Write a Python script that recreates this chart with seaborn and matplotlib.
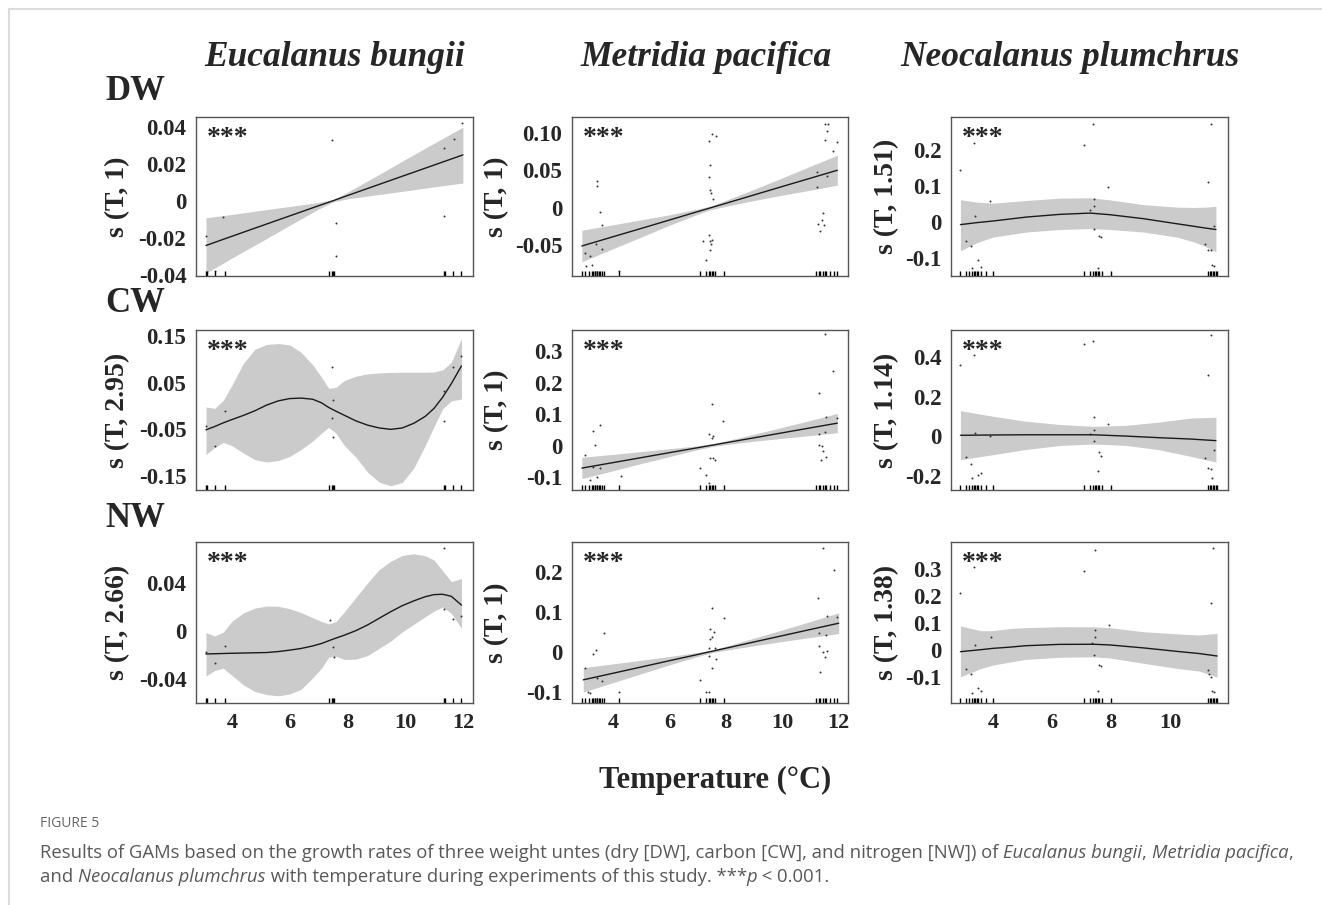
import numpy as np
import matplotlib.pyplot as plt
import seaborn as sns
from matplotlib.lines import Line2D

# Labels
species = ['Eucalanus bungii', 'Metridia pacifica', 'Neocalanus plumchrus']
weights = ['DW', 'CW', 'NW']
ylabels = [['s (T, 1)', 's (T, 1)', 's (T, 1.51)'],
           ['s (T, 2.95)', 's (T, 1)', 's (T, 1.14)'],
           ['s (T, 2.66)', 's (T, 1)', 's (T, 1.38)']]

# Rug (observed temperatures) per species
eb_rug = [3.1, 3.12, 3.4, 3.75, 7.35, 7.45, 7.5, 7.55, 11.33, 11.37, 11.65, 11.95]
mp_rug = [2.9, 3.0, 3.15, 3.25, 3.3, 3.35, 3.38, 3.42, 3.45, 3.5, 3.55, 3.6, 3.7, 4.2,
          7.1, 7.3, 7.4, 7.45, 7.5, 7.55, 7.6, 7.95,
          11.2, 11.3, 11.35, 11.45, 11.5, 11.55, 11.7, 11.85, 11.95]
np_rug = [2.9, 3.1, 3.2, 3.3, 3.35, 3.4, 3.45, 3.5, 3.6, 3.75, 4.0,
          7.1, 7.3, 7.4, 7.45, 7.5, 7.55, 7.6, 7.7, 8.0,
          11.3, 11.35, 11.4, 11.45, 11.5, 11.55, 11.6]

# ---- DW ----
eb_dw_x = [3.1, 4, 5, 6, 7, 7.5, 8, 9, 10, 11, 12]
eb_dw_fit = [-0.024, -0.019, -0.0135, -0.008, -0.0025, 0.0002, 0.003, 0.0085, 0.014, 0.0195, 0.025]
eb_dw_lo = [-0.039, -0.0308, -0.022, -0.0131, -0.0043, -0.0004, 0.0012, 0.0034, 0.0055, 0.0077, 0.0098]
eb_dw_hi = [-0.009, -0.0072, -0.005, -0.0029, -0.0007, 0.0008, 0.0048, 0.0136, 0.0225, 0.0313, 0.040]
eb_dw_px = [3.1, 3.7, 3.4, 7.47, 7.6, 7.6, 11.35, 11.7, 11.97, 11.35]
eb_dw_py = [-0.0188, -0.0084, -0.038, 0.033, -0.0117, -0.0297, 0.0286, 0.0335, 0.042, -0.0079]

mp_dw_x = [2.9, 4, 5, 6, 7, 7.45, 8, 9, 10, 11, 11.95]
mp_dw_fit = [-0.051, -0.0387, -0.0276, -0.0164, -0.0052, -0.0002, 0.0059, 0.0171, 0.0283, 0.0394, 0.050]
mp_dw_lo = [-0.072, -0.0547, -0.0391, -0.0234, -0.0087, -0.0027, 0.0019, 0.0096, 0.0168, 0.0234, 0.030]
mp_dw_hi = [-0.030, -0.0227, -0.0161, -0.0094, -0.0017, 0.0023, 0.0099, 0.0246, 0.0398, 0.0554, 0.070]
mp_dw_px = [3.42, 3.44, 3.55, 3.6, 3.4, 3.0, 3.2, 3.05, 3.25, 3.6, 4.2,
            7.5, 7.4, 7.66, 7.45, 7.4, 7.43, 7.47, 7.55, 7.2, 7.4, 7.45, 7.5, 7.47, 7.3, 7.43,
            11.5, 11.62, 11.57, 11.5, 11.95, 11.8, 11.23, 11.57, 11.23, 11.45, 11.42, 11.27, 11.47, 11.35]
mp_dw_py = [0.0355, 0.0285, -0.006, -0.0225, -0.049, -0.06, -0.064, -0.078, -0.077, -0.055, -0.085,
            0.098, 0.089, 0.096, 0.057, 0.041, 0.024, 0.020, 0.012, -0.045, -0.036, -0.044, -0.043, -0.049, -0.070, -0.057,
            0.111, 0.112, 0.102, 0.090, 0.088, 0.075, 0.048, 0.042, 0.027, -0.007, -0.016, -0.022, -0.023, -0.031]

np_dw_x = [2.9, 3.45, 4.0, 5.15, 6.28, 7.29, 7.97, 9.1, 10.23, 10.8, 11.2, 11.56]
np_dw_fit = [-0.0075, -0.002, 0.0025, 0.0136, 0.021, 0.0245, 0.020, 0.009, -0.005, -0.012, -0.017, -0.021]
np_dw_lo = [-0.080, -0.058, -0.042, -0.028, -0.021, -0.0185, -0.021, -0.028, -0.042, -0.055, -0.068, -0.083]
np_dw_hi = [0.0614, 0.055, 0.052, 0.0595, 0.066, 0.067, 0.061, 0.048, 0.041, 0.040, 0.041, 0.043]
np_dw_px = [2.9, 3.35, 3.38, 3.1, 3.25, 3.5, 3.3, 3.6, 3.9,
            7.1, 7.4, 7.42, 7.44, 7.3, 7.42, 7.6, 7.65, 7.55, 7.9,
            11.4, 11.3, 11.5, 11.2, 11.3, 11.4, 11.42, 11.48]
np_dw_py = [0.144, 0.218, 0.016, -0.053, -0.066, -0.105, -0.128, -0.125, 0.059,
            0.213, 0.272, 0.063, 0.044, 0.032, -0.019, -0.040, -0.041, -0.128, 0.096,
            0.271, 0.111, -0.011, -0.060, -0.077, -0.077, -0.119, -0.123]

# ---- CW ----
eb_cw_x = [3.1, 3.4, 3.7, 4.0, 4.4, 4.8, 5.2, 5.6, 6.0, 6.4, 6.8, 7.1, 7.35, 7.6, 7.9,
           8.3, 8.7, 9.1, 9.5, 9.9, 10.3, 10.7, 11.0, 11.3, 11.6, 11.95]
eb_cw_fit = [-0.051, -0.044, -0.036, -0.029, -0.020, -0.010, 0.002, 0.011, 0.016, 0.017, 0.0145,
             0.007, -0.003, -0.011, -0.020, -0.032, -0.041, -0.047, -0.050, -0.047, -0.037,
             -0.022, -0.005, 0.019, 0.048, 0.086]
eb_cw_lo = [-0.104, -0.089, -0.078, -0.085, -0.101, -0.115, -0.120, -0.117, -0.108, -0.093, -0.075,
            -0.058, -0.046, -0.058, -0.085, -0.110, -0.142, -0.163, -0.171, -0.164, -0.133,
            -0.084, -0.044, -0.006, 0.011, 0.015]
eb_cw_hi = [-0.002, -0.005, 0.012, 0.045, 0.092, 0.122, 0.132, 0.134, 0.131, 0.115, 0.088,
            0.062, 0.038, 0.040, 0.055, 0.064, 0.069, 0.071, 0.072, 0.0725, 0.0725,
            0.0725, 0.073, 0.0775, 0.094, 0.145]
eb_cw_px = [3.1, 3.4, 3.75, 7.47, 7.5, 7.45, 7.5, 11.35, 11.65, 11.95, 11.35]
eb_cw_py = [-0.042, -0.085, -0.011, 0.083, 0.013, -0.026, -0.067, 0.032, 0.083, 0.108, -0.033]

mp_cw_x = [2.9, 4, 5, 6, 7, 7.5, 8, 9, 10, 11, 11.95]
mp_cw_fit = [-0.0714, -0.0541, -0.0383, -0.0225, -0.0068, 0.0011, 0.009, 0.0247, 0.0405, 0.0563, 0.0712]
mp_cw_lo = [-0.105, -0.080, -0.057, -0.035, -0.013, -0.0034, 0.003, 0.014, 0.023, 0.032, 0.041]
mp_cw_hi = [-0.037, -0.028, -0.019, -0.010, -0.0008, 0.0056, 0.015, 0.036, 0.058, 0.080, 0.102]
mp_cw_px = [3.0, 3.3, 3.35, 3.55, 3.3, 3.45, 3.2, 4.3, 3.55,
            7.5, 7.42, 7.5, 7.55, 7.9, 7.45, 7.55, 7.62, 7.1, 7.3, 7.42,
            11.5, 11.8, 11.3, 11.55, 11.95, 11.3, 11.5, 11.3, 11.42, 11.45, 11.55, 11.38]
mp_cw_py = [-0.029, 0.047, 0.0025, 0.064, -0.069, -0.100, -0.110, -0.098, -0.072,
            0.132, 0.036, 0.025, 0.030, 0.079, -0.040, -0.040, -0.045, -0.071, -0.092, -0.118,
            0.354, 0.236, 0.167, 0.092, 0.088, 0.036, 0.042, 0.0025, 0.0, -0.018, -0.035, -0.047]

np_cw_x = [2.9, 4.0, 5.1, 6.3, 7.4, 8.5, 9.6, 10.7, 11.56]
np_cw_fit = [0.005, 0.0065, 0.0075, 0.0075, 0.0075, 0.001, -0.007, -0.014, -0.022]
np_cw_lo = [-0.118, -0.093, -0.067, -0.046, -0.039, -0.046, -0.067, -0.101, -0.130]
np_cw_hi = [0.129, 0.101, 0.076, 0.059, 0.050, 0.055, 0.071, 0.092, 0.096]
np_cw_px = [2.9, 3.35, 3.38, 3.1, 3.25, 3.5, 3.3, 3.6, 3.9,
            7.1, 7.4, 7.42, 7.44, 7.3, 7.42, 7.6, 7.65, 7.55, 7.9,
            11.4, 11.3, 11.5, 11.2, 11.3, 11.4, 11.42]
np_cw_py = [0.361, 0.412, 0.018, -0.107, -0.141, -0.197, -0.210, -0.186, 0.0,
            0.466, 0.480, 0.095, 0.030, 0.010, -0.022, -0.081, -0.100, -0.175, 0.060,
            0.512, 0.310, -0.067, -0.110, -0.160, -0.165, -0.210]

# ---- NW ----
eb_nw_x = [3.1, 3.4, 3.7, 4.0, 4.4, 4.8, 5.2, 5.6, 6.0, 6.4, 6.8, 7.1, 7.35, 7.6, 7.9,
           8.3, 8.7, 9.1, 9.5, 9.9, 10.3, 10.7, 11.0, 11.3, 11.6, 11.95]
eb_nw_fit = [-0.0192, -0.019, -0.0188, -0.0186, -0.0184, -0.0182, -0.018, -0.0172, -0.016, -0.0146,
             -0.0125, -0.0105, -0.0082, -0.006, -0.0035, 0.0003, 0.005, 0.0105, 0.016, 0.021,
             0.025, 0.0285, 0.0302, 0.0305, 0.0288, 0.0215]
eb_nw_lo = [-0.0375, -0.033, -0.031, -0.037, -0.045, -0.0505, -0.053, -0.054, -0.0525, -0.0485,
            -0.039, -0.031, -0.022, -0.021, -0.0238, -0.0235, -0.0205, -0.0145, -0.0085, -0.0008,
            0.0055, 0.0119, 0.0165, 0.020, 0.0145, 0.0022]
eb_nw_hi = [-0.0014, -0.0042, -0.001, 0.008, 0.015, 0.019, 0.0207, 0.0205, 0.0185, 0.0152,
            0.011, 0.0078, 0.0058, 0.0078, 0.016, 0.028, 0.040, 0.051, 0.058, 0.0628,
            0.0642, 0.0625, 0.059, 0.050, 0.041, 0.0435]
eb_nw_px = [3.1, 3.4, 3.75, 7.4, 7.5, 7.52, 11.35, 11.35, 11.65, 11.95]
eb_nw_py = [-0.0175, -0.027, -0.0125, 0.009, -0.013, -0.022, 0.069, 0.018, 0.0098, 0.012]

mp_nw_x = [2.95, 4, 5, 6, 7, 7.5, 8, 9, 10, 11, 12]
mp_nw_fit = [-0.070, -0.0536, -0.0379, -0.0222, -0.0066, 0.0013, 0.0091, 0.0248, 0.0404, 0.0561, 0.0717]
mp_nw_lo = [-0.1005, -0.0771, -0.0549, -0.0327, -0.0116, -0.0022, 0.0041, 0.0153, 0.0259, 0.0361, 0.0457]
mp_nw_hi = [-0.0395, -0.0301, -0.0209, -0.0117, -0.0016, 0.0048, 0.0141, 0.0343, 0.0549, 0.0761, 0.0977]
mp_nw_px = [3.0, 3.3, 3.4, 3.7, 3.42, 3.6, 3.1, 3.2, 4.2,
            7.5, 7.45, 7.5, 7.45, 7.57, 7.4, 7.6, 7.65, 7.4, 7.5, 7.1, 7.3, 7.4, 7.95,
            11.45, 11.85, 11.25, 11.6, 11.3, 11.55, 11.95, 11.3, 11.45, 11.6, 11.5, 11.35]
mp_nw_py = [-0.041, -0.005, 0.005, 0.048, -0.065, -0.073, -0.100, -0.102, -0.100,
            0.111, 0.058, 0.036, 0.032, 0.050, 0.009, 0.009, -0.018, -0.010, -0.040, -0.070, -0.100, -0.100, 0.084,
            0.259, 0.206, 0.136, 0.090, 0.046, 0.042, 0.087, 0.014, 0.0, 0.003, -0.012, -0.050]

np_nw_x = [2.9, 3.6, 4.0, 4.6, 5.1, 6.25, 7.4, 7.95, 9.1, 10.25, 11.0, 11.6]
np_nw_fit = [-0.006, 0.0015, 0.0063, 0.011, 0.016, 0.021, 0.0215, 0.019, 0.008, -0.005, -0.013, -0.022]
np_nw_lo = [-0.099, -0.068, -0.0556, -0.044, -0.0346, -0.027, -0.025, -0.029, -0.049, -0.068, -0.078, -0.100]
np_nw_hi = [0.089, 0.0716, 0.072, 0.080, 0.083, 0.0863, 0.086, 0.083, 0.0679, 0.060, 0.0556, 0.0617]
np_nw_px = [2.9, 3.35, 3.38, 3.1, 3.25, 3.5, 3.3, 3.6, 3.95,
            7.1, 7.45, 7.47, 7.47, 7.35, 7.42, 7.6, 7.67, 7.55, 7.95,
            11.45, 11.38, 11.3, 11.32, 11.4, 11.42, 11.48]
np_nw_py = [0.212, 0.308, 0.020, -0.069, -0.088, -0.140, -0.160, -0.150, 0.048,
            0.294, 0.370, 0.074, 0.047, 0.027, -0.020, -0.054, -0.060, -0.150, 0.094,
            0.376, 0.175, -0.075, -0.090, -0.100, -0.150, -0.157]

# Axis settings
xlims = [(2.755, 12.35), (2.55, 12.33), (2.58, 11.97)]
xticks = [[4, 6, 8, 10, 12], [4, 6, 8, 10, 12], [4, 6, 8, 10]]
ylims = [[(-0.0405, 0.0455), (-0.091, 0.121), (-0.150, 0.291)],
         [(-0.180, 0.163), (-0.141, 0.367), (-0.271, 0.536)],
         [(-0.060, 0.074), (-0.128, 0.275), (-0.196, 0.400)]]
yticks = [[[-0.04, -0.02, 0, 0.02, 0.04], [-0.05, 0, 0.05, 0.10], [-0.1, 0, 0.1, 0.2]],
          [[-0.15, -0.1, -0.05, 0, 0.05, 0.1, 0.15], [-0.1, 0, 0.1, 0.2, 0.3], [-0.2, 0, 0.2, 0.4]],
          [[-0.04, -0.02, 0, 0.02, 0.04, 0.06], [-0.1, 0, 0.1, 0.2], [-0.1, 0, 0.1, 0.2, 0.3]]]
yticklabels = [[['-0.04', '-0.02', '0', '0.02', '0.04'], ['-0.05', '0', '0.05', '0.10'], ['-0.1', '0', '0.1', '0.2']],
               [['-0.15', '', '-0.05', '', '0.05', '', '0.15'], ['-0.1', '0', '0.1', '0.2', '0.3'], ['-0.2', '0', '0.2', '0.4']],
               [['-0.04', '', '0', '', '0.04', ''], ['-0.1', '0', '0.1', '0.2'], ['-0.1', '0', '0.1', '0.2', '0.3']]]

panels = [
    [(eb_dw_x, eb_dw_fit, eb_dw_lo, eb_dw_hi, eb_dw_px, eb_dw_py, eb_rug),
     (mp_dw_x, mp_dw_fit, mp_dw_lo, mp_dw_hi, mp_dw_px, mp_dw_py, mp_rug),
     (np_dw_x, np_dw_fit, np_dw_lo, np_dw_hi, np_dw_px, np_dw_py, np_rug)],
    [(eb_cw_x, eb_cw_fit, eb_cw_lo, eb_cw_hi, eb_cw_px, eb_cw_py, eb_rug),
     (mp_cw_x, mp_cw_fit, mp_cw_lo, mp_cw_hi, mp_cw_px, mp_cw_py, mp_rug),
     (np_cw_x, np_cw_fit, np_cw_lo, np_cw_hi, np_cw_px, np_cw_py, np_rug)],
    [(eb_nw_x, eb_nw_fit, eb_nw_lo, eb_nw_hi, eb_nw_px, eb_nw_py, eb_rug),
     (mp_nw_x, mp_nw_fit, mp_nw_lo, mp_nw_hi, mp_nw_px, mp_nw_py, mp_rug),
     (np_nw_x, np_nw_fit, np_nw_lo, np_nw_hi, np_nw_px, np_nw_py, np_rug)],
]

sns.set_style('white')
plt.rcParams['font.family'] = ['Liberation Serif', 'DejaVu Serif']
plt.rcParams['font.weight'] = 'bold'

W, H = 1322, 905
fig = plt.figure(figsize=(W / 100, H / 100), dpi=100)

col_left = [196, 572, 951]
col_w = [277, 276, 277]
row_top = [117, 330, 542]
row_h = [159, 160, 161]
ylab_off = [78, 75, 64]

for r in range(3):
    for c in range(3):
        x, fit, lo, hi, px, py, rug = panels[r][c]
        ax = fig.add_axes([col_left[c] / W, 1 - (row_top[r] + row_h[r]) / H, col_w[c] / W, row_h[r] / H])
        ax.fill_between(x, lo, hi, color='#cbcbcb', lw=0)
        sns.lineplot(x=x, y=fit, color='#1a1a1a', lw=1.0, ax=ax)
        sns.scatterplot(x=px, y=py, s=2, color='#333333', linewidth=0, ax=ax)
        sns.rugplot(x=rug, height=0.03, color='black', lw=0.9, ax=ax)
        ax.set_xlim(*xlims[c])
        ax.set_ylim(*ylims[r][c])
        ax.set_xticks(xticks[c])
        if r == 2:
            ax.set_xticklabels([str(t) for t in xticks[c]], fontsize=16, fontweight='bold')
        else:
            ax.set_xticklabels([])
        ax.set_yticks(yticks[r][c])
        ax.set_yticklabels(yticklabels[r][c], fontsize=16.5, fontweight='bold')
        ax.tick_params(direction='out', length=4, width=1, color='#222222', pad=3)
        for s in ax.spines.values():
            s.set_color('#555555')
            s.set_linewidth(1.0)
        ax.set_ylabel(ylabels[r][c], fontsize=20, fontweight='bold', va='center')
        ax.yaxis.set_label_coords(-ylab_off[c] / col_w[c], 0.5)
        ax.set_xlabel('')
        ax.text(0.04, 0.865, '***', transform=ax.transAxes, fontsize=20, fontweight='bold', va='center', ha='left')

# Column titles and row labels
title_x = [335, 706, 1070]
for c in range(3):
    fig.text(title_x[c] / W, 1 - 57 / H, species[c], fontsize=25.5, fontweight='bold', style='italic',
             ha='center', va='center')
row_y = [91, 304, 518]
for r in range(3):
    fig.text(105 / W, 1 - row_y[r] / H, weights[r], fontsize=25, fontweight='bold', ha='left', va='center')

fig.text(715 / W, 1 - 780 / H, 'Temperature (\u00b0C)', fontsize=22, fontweight='bold', ha='center', va='center')

# Caption
cap_font = ['Open Sans', 'DejaVu Sans']
fig.text(40 / W, 1 - 823 / H, 'FIGURE 5', fontsize=10, family=cap_font, color='#666666',
         ha='left', va='center', fontweight='normal')

renderer = fig.canvas.get_renderer()


def put_runs(x0, y0, runs):
    xx = x0
    for txt, st in runs:
        t = fig.text(xx / W, 1 - y0 / H, txt, fontsize=13.3, family=cap_font, style=st,
                     color='#595959', ha='left', va='center', fontweight='normal')
        bb = t.get_window_extent(renderer)
        xx += bb.width


put_runs(40, 853, [('Results of GAMs based on the growth rates of three weight untes (dry [DW], carbon [CW], and nitrogen [NW]) of\u00a0', 'normal'),
                   ('Eucalanus bungii', 'italic'), (',\u00a0', 'normal'),
                   ('Metridia pacifica', 'italic'), (',', 'normal')])
put_runs(40, 877, [('and\u00a0', 'normal'), ('Neocalanus plumchrus', 'italic'),
                   ('\u00a0with temperature during experiments of this study. ***', 'normal'),
                   ('p', 'italic'), ('\u00a0< 0.001.', 'normal')])

# Frame lines of the page
fig.add_artist(Line2D([9 / W, 1], [1 - 9 / H, 1 - 9 / H], color='#dcdcdc', lw=1.5))
fig.add_artist(Line2D([9 / W, 9 / W], [1 - 9 / H, 0], color='#dcdcdc', lw=1.5))

fig.savefig('out.png', dpi=100)
